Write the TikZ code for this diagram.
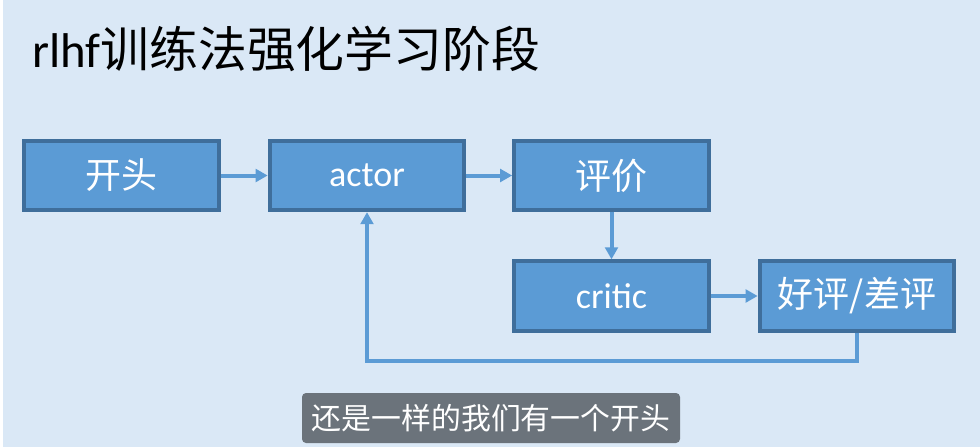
\documentclass[tikz,border=0pt]{standalone}
\usepackage{fontspec}
\setmainfont{Carlito}
\newfontfamily\cjk{Noto Sans CJK SC}
\usetikzlibrary{arrows.meta,positioning}
\definecolor{bgblue}{HTML}{DAE8F6}
\definecolor{boxblue}{HTML}{5B9BD5}
\definecolor{boxline}{HTML}{3F6E9B}
\definecolor{capgray}{HTML}{6B737B}
\tikzset{
  box/.style={draw=boxline, fill=boxblue, line width=3pt, minimum width=146pt,
    minimum height=52pt, inner sep=0pt, text=white, font=\fontsize{27}{30}\selectfont},
  flow/.style={draw=boxblue, line width=3pt, -{Triangle[length=9pt,width=9.5pt]}},
}
\begin{document}
\begin{tikzpicture}[x=0.75pt,y=-0.75pt]

\fill[white] (0,0) rectangle (980,447);
\fill[bgblue] (3,0) rectangle (980,447);
\useasboundingbox (0,0) rectangle (980,447);

\node[anchor=west, inner sep=0pt, font=\fontsize{36.6}{40}\selectfont] (title) at (32,49) {rlhf{\cjk 训练法强化学习阶段}};

\node[box] (start) at (121.5,175.5) {\cjk 开头};
\node[box] (actor) at (367,175.5) {actor};
\node[box] (judge) at (611.5,175.5) {\cjk 评价};
\node[box] (critic) at (611.5,296) {critic};
\node[box] (verdict) at (857,296) {\cjk 好评/差评};

\draw[flow] (start) -- (actor);
\draw[flow] (actor) -- (judge);
\draw[flow] (judge) -- (critic);
\draw[flow] (critic) -- (verdict);
\coordinate (back) at (857,361);
\draw[flow] (verdict.south) -- (back) -| (actor.south);

\node[fill=capgray, rounded corners=3pt, minimum width=283.5pt, minimum height=37.5pt, inner sep=0pt,
  text=white, font=\cjk\fontsize{22.4}{24}\selectfont] (caption) at (491,418) {还是一样的我们有一个开头};

\end{tikzpicture}
\end{document}
